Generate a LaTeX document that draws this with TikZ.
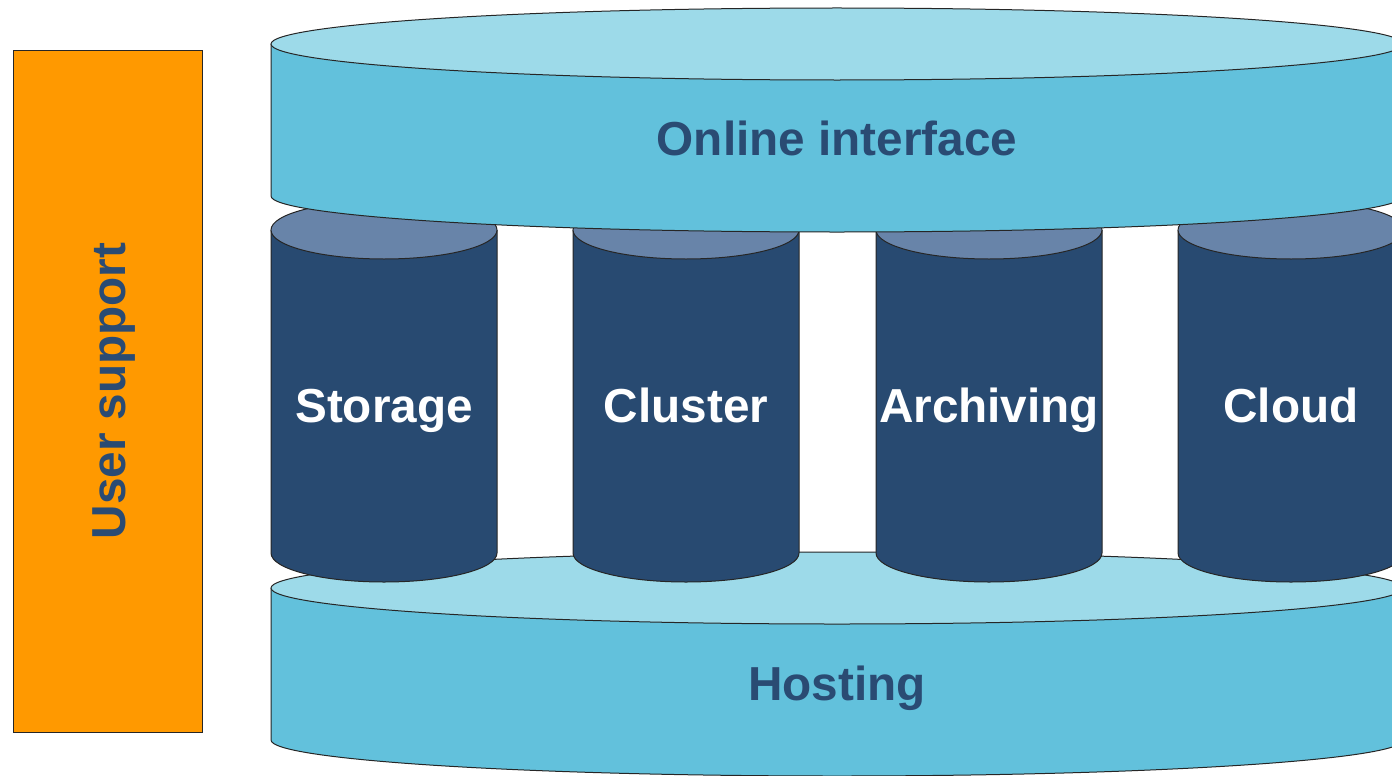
\documentclass[tikz,border=0pt]{standalone}
\usepackage{fontspec}
\setmainfont{Liberation Sans}
\definecolor{disktop}{HTML}{9DDAE9}
\definecolor{diskbody}{HTML}{62C1DC}
\definecolor{cyltop}{HTML}{6884A9}
\definecolor{cylbody}{HTML}{284A71}
\definecolor{txtblue}{HTML}{2A4B73}
\definecolor{supportorange}{HTML}{FF9900}
\newcommand\drumshape[7]{%
  % #1 cx, #2 rx, #3 ytop, #4 ybottom, #5 ry, #6 top colour, #7 body colour
  \fill[#7] ({#1-#2},#3) -- ({#1-#2},#4) arc[start angle=180,end angle=360,x radius=#2bp,y radius=#5bp] -- ({#1+#2},#3) -- cycle;
  \draw[outline] ({#1-#2},#3) -- ({#1-#2},#4) arc[start angle=180,end angle=360,x radius=#2bp,y radius=#5bp] -- ({#1+#2},#3);
  \filldraw[outline,fill=#6] (#1,#3) ellipse[x radius=#2bp,y radius=#5bp];
}
\begin{document}
\begin{tikzpicture}[x=1bp,y=-1bp,
  outline/.style={draw=black!85,line width=1bp},
  bigtext/.style={font=\fontsize{47.7bp}{52bp}\selectfont\bfseries,inner sep=0pt,anchor=base},
  darklabel/.style={bigtext,text=txtblue},
  whitelabel/.style={bigtext,text=white}]
\useasboundingbox (0,0) rectangle (1392,775);
\clip (0,0) rectangle (1392,775);
% Hosting layer
\drumshape{837}{566}{588}{740}{36}{disktop}{diskbody}
% Pillars
\drumshape{384}{113}{230}{553}{29}{cyltop}{cylbody}
\drumshape{686}{113}{230}{553}{29}{cyltop}{cylbody}
\drumshape{989}{113}{230}{553}{29}{cyltop}{cylbody}
\drumshape{1291}{113}{230}{553}{29}{cyltop}{cylbody}
% Online interface layer
\drumshape{837}{566}{44}{196}{36}{disktop}{diskbody}
% User support bar
\filldraw[outline,fill=supportorange] (13,51) rectangle (202,732);
% Labels
\node[darklabel] (online) at (837,155) {Online interface};
\node[darklabel] (hosting) at (837,700) {Hosting};
\node[whitelabel] (storage) at (384,422) {Storage};
\node[whitelabel] (cluster) at (686,422) {Cluster};
\node[whitelabel] (archiving) at (989,422) {Archiving};
\node[whitelabel] (cloud) at (1291,422) {Cloud};
\node[darklabel,rotate=90] (support) at (125,391) {User support};
\end{tikzpicture}
\end{document}
